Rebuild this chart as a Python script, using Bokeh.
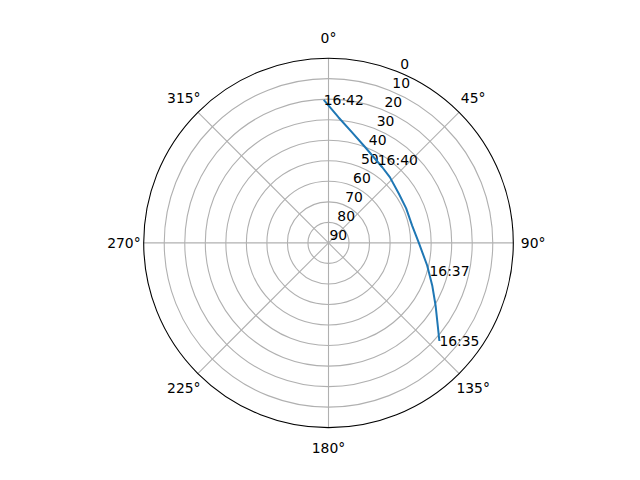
import numpy as np
from bokeh.plotting import figure
from bokeh.models import ColumnDataSource, Range1d
from bokeh.core.properties import value
from bokeh.embed import file_html
from bokeh.resources import INLINE

# ---- data (azimuth deg, elevation deg) ----
track_az = [131.5, 127.1, 120.3, 112.3, 102.9, 90.0, 78.3, 66.0, 55.1, 43.0, 35.4, 21.0, 11.9, 4.5, -1.9]
track_el = [17.9, 23.3, 29.6, 35.4, 40.7, 46.0, 48.4, 48.6, 48.2, 46.2, 44.8, 40.1, 34.9, 28.6, 20.3]
label_times = ["16:35", "16:37", "16:40", "16:42"]
label_az = [131.5, 105.3, 30.7, -1.9]
label_el = [17.9, 39.0, 43.0, 20.3]
theta_ticks = [0, 45, 90, 135, 180, 225, 270, 315]
theta_labels = ["0°", "45°", "90°", "135°", "180°", "225°", "270°", "315°"]
r_ticks = [0, 10, 20, 30, 40, 50, 60, 70, 80, 90]
r_labels = ["0", "10", "20", "30", "40", "50", "60", "70", "80", "90"]

PX = 184.8  # pixels per unit radius
CX, CY = 328.0, 242.4  # center in page pixels
OX, OY = 0, 0  # figure origin on the page
W, H = 624, 464

def to_xy(az, el):
    az = np.radians(np.asarray(az, dtype=float))
    r = (90.0 - np.asarray(el, dtype=float)) / 90.0
    return r * np.sin(az), r * np.cos(az)

p = figure(width=W, height=H, output_backend="svg", toolbar_location=None,
           x_range=Range1d((OX - CX) / PX, (OX + W - CX) / PX),
           y_range=Range1d((CY - OY - H) / PX, (CY - OY) / PX),
           min_border=0)
p.axis.visible = False
p.grid.visible = False
p.outline_line_color = None
p.background_fill_color = "white"
p.border_fill_color = "white"

font = value("DejaVu Sans")
fs = "13.9px"
grid_col = "#b0b0b0"

# rings
ring_r = [(90 - e) / 90 for e in r_ticks[1:-1]]
p.circle(x=[0] * len(ring_r), y=[0] * len(ring_r), radius=ring_r,
         fill_color=None, line_color=grid_col, line_width=1.1)
# spokes
sx, sy = to_xy(theta_ticks, [0] * len(theta_ticks))
p.multi_line(xs=[[0, a] for a in sx], ys=[[0, b] for b in sy],
             line_color=grid_col, line_width=1.1)
# outer spine
p.circle(x=[0], y=[0], radius=[1.0], fill_color=None, line_color="black", line_width=1.1)

# theta labels
lr = 1 + 19.8 / PX
ang = np.radians(theta_ticks)
p.text(x=lr * np.sin(ang), y=lr * np.cos(ang), text=theta_labels,
       text_align="center", text_baseline="middle",
       text_font=font, text_font_size=fs, text_color="black")

# radial labels
rx, ry = to_xy([22.5] * len(r_ticks), r_ticks)
p.text(x=rx, y=ry, text=r_labels, text_align="left", text_baseline="bottom",
       x_offset=1, y_offset=-3,
       text_font=font, text_font_size=fs, text_color="black")

# track
tx, ty = to_xy(track_az, track_el)
p.line(x=tx, y=ty, line_color="#1f77b4", line_width=2.0)

# time annotations
lx, ly = to_xy(label_az, label_el)
src = ColumnDataSource(dict(x=lx, y=ly, t=label_times))
p.text(x="x", y="y", text="t", source=src, text_align="left",
       text_baseline="alphabetic", text_font=font, text_font_size=fs,
       text_color="black")

open("out.html", "w").write(file_html(p, INLINE))
